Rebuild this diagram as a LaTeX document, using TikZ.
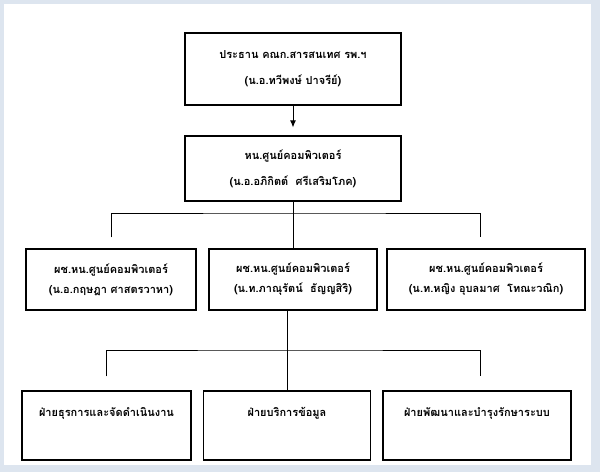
\documentclass[tikz,border=0pt]{standalone}
\usepackage{fontspec}
\newfontfamily\thaifont[Script=Thai]{Loma}
\usetikzlibrary{calc,arrows.meta}
\definecolor{panelbg}{RGB}{221,229,239}

\begin{document}
\begin{tikzpicture}[x=1pt,y=-1pt,
    box/.style={draw,line width=1.1pt,align=center,inner sep=0pt,
      font=\thaifont\bfseries\fontsize{11}{20}\selectfont},
    unit/.style={box,minimum width=#1,minimum height=69pt,text height=8pt,text depth=27pt},
    link/.style={line width=1pt}]
	% page frame
	\fill[panelbg] (0,0) rectangle (600,472);
	\fill[white] (4,4) rectangle (591,465);
	% head boxes
	\node[box,minimum width=216pt,minimum height=72pt] (chair) at (293,69)
		{ประธาน คณก.สารสนเทศ รพ.ฯ\\[6pt](น.อ.ทวีพงษ์ ปาจรีย์)};
	\node[box,minimum width=216pt,minimum height=65pt] (head) at (293,168.5)
		{หน.ศูนย์คอมพิวเตอร์\\[6pt](น.อ.อภิกิตต์\ \ ศรีเสริมโภค)};
	% deputies
	\node[box,minimum width=170pt,minimum height=61pt] (dep1) at (111,279.5)
		{ผช.หน.ศูนย์คอมพิวเตอร์\\(น.อ.กฤษฎา ศาสตรวาหา)};
	\node[box,minimum width=168pt,minimum height=61pt] (dep2) at (293,279.5)
		{ผช.หน.ศูนย์คอมพิวเตอร์\\(น.ท.ภาณุรัตน์\ \ ธัญญสิริ)};
	\node[box,minimum width=198pt,minimum height=61pt] (dep3) at (486,279.5)
		{ผช.หน.ศูนย์คอมพิวเตอร์\\(น.ท.หญิง อุบลมาศ\ \ โทณะวณิก)};
	% sections
	\node[unit=169pt] (sec1) at (106.5,425.5) {ฝ่ายธุรการและจัดดำเนินงาน};
	\node[unit=167pt] (sec2) at (287,425.5) {ฝ่ายบริการข้อมูล};
	\node[unit=188pt] (sec3) at (477,425.5) {ฝ่ายพัฒนาและบำรุงรักษาระบบ};
	% connectors
	\coordinate (bus1) at (293,213);
	\coordinate (bus2) at (287,350);
	\draw[link,-{Latex[length=7pt,width=6pt]},shorten >=8pt] (chair) -- (head);
	\draw[link] (head) -- (dep2);
	\draw[link,shorten <=11pt,shorten >=11pt] (dep1.north) |- (bus1) -| ([xshift=-6pt]dep3.north);
	\draw[link] (sec2.north |- dep2.south) -- (sec2.north);
	\draw[link,shorten <=14pt,shorten >=14pt] (sec1.north) |- (bus2) -| ([xshift=3pt]sec3.north);
\end{tikzpicture}
\end{document}
